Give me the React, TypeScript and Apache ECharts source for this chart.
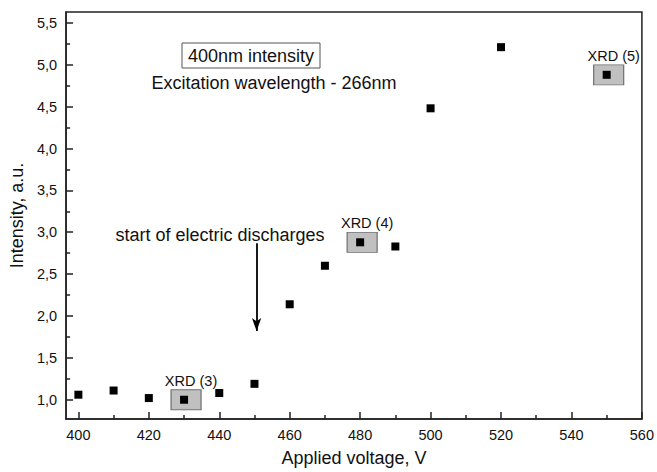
import React, { useEffect, useRef } from "react";
import * as echarts from "echarts";

const voltages = [400, 410, 420, 430, 440, 450, 460, 470, 480, 490, 500, 520, 550];
const intensity = [1.06, 1.11, 1.02, 1.0, 1.08, 1.19, 2.14, 2.6, 2.88, 2.83, 4.48, 5.21, 4.88];

const xrdVoltages = [430, 480, 550];
const xrdIntensity = [1.0, 2.88, 4.88];
const xrdLabels = ["XRD (3)", "XRD (4)", "XRD (5)"];

const xMajorTicks = [400, 420, 440, 460, 480, 500, 520, 540, 560];
const xMinorTicks = [410, 430, 450, 470, 490, 510, 530, 550];
const yMajorTicks = [1.0, 1.5, 2.0, 2.5, 3.0, 3.5, 4.0, 4.5, 5.0, 5.5];
const yMinorTicks = [1.25, 1.75, 2.25, 2.75, 3.25, 3.75, 4.25, 4.75, 5.25];

const arrowX = 450.6;
const arrowFrom = 2.87;
const arrowTo = 1.82;

const FONT = "'Liberation Sans', Arial, sans-serif";
const TEXT = "#111";
const AXIS = "#222";

export default function App() {
  const ref = useRef<HTMLDivElement>(null);
  useEffect(() => {
    document.body.style.margin = "0";
    if (!ref.current) return;
    const chart = echarts.init(ref.current, undefined, { renderer: "svg" });
    const xMin = 396.5, xMax = 560, yMin = 0.77, yMax = 5.63;
    const option: any = {
      animation: false,
      backgroundColor: "#fff",
      textStyle: { fontFamily: FONT },
      grid: {
        left: 64, right: 13, top: 12, bottom: 50,
        show: true, borderColor: AXIS, borderWidth: 1.5, backgroundColor: "transparent",
      },
      xAxis: [
        {
          type: "value", min: xMin, max: xMax, position: "bottom",
          name: "Applied voltage, V", nameLocation: "middle", nameGap: 30,
          nameTextStyle: { fontSize: 18, color: TEXT, fontFamily: FONT },
          axisLine: { show: true, onZero: false, lineStyle: { color: AXIS, width: 1.5 } },
          axisTick: { show: true, inside: true, length: 7, customValues: xMajorTicks, lineStyle: { color: AXIS, width: 1.5 } },
          axisLabel: { show: true, customValues: xMajorTicks, fontSize: 14.5, color: TEXT, margin: 8, fontFamily: FONT },
          splitLine: { show: false },
        },
        {
          type: "value", min: xMin, max: xMax, position: "bottom", offset: 0,
          axisLine: { show: false, onZero: false },
          axisTick: { show: true, inside: true, length: 4, customValues: xMinorTicks, lineStyle: { color: AXIS, width: 1.5 } },
          axisLabel: { show: false },
          splitLine: { show: false },
        },
      ],
      yAxis: [
        {
          type: "value", min: yMin, max: yMax, position: "left",
          name: "Intensity, a.u.", nameLocation: "middle", nameGap: 40,
          nameTextStyle: { fontSize: 18, color: TEXT, fontFamily: FONT },
          axisLine: { show: true, onZero: false, lineStyle: { color: AXIS, width: 1.5 } },
          axisTick: { show: true, inside: true, length: 7, customValues: yMajorTicks, lineStyle: { color: AXIS, width: 1.5 } },
          axisLabel: {
            show: true, customValues: yMajorTicks, fontSize: 14.5, color: TEXT, margin: 9, fontFamily: FONT,
            formatter: (v: number) => v.toFixed(1).replace(".", ","),
          },
          splitLine: { show: false },
        },
        {
          type: "value", min: yMin, max: yMax, position: "left", offset: 0,
          axisLine: { show: false, onZero: false },
          axisTick: { show: true, inside: true, length: 4, customValues: yMinorTicks, lineStyle: { color: AXIS, width: 1.5 } },
          axisLabel: { show: false },
          splitLine: { show: false },
        },
      ],
      series: [
        {
          type: "scatter",
          name: "XRD",
          symbol: "rect",
          symbolSize: [30, 20],
          symbolOffset: [2, 0],
          itemStyle: { color: "#c0c0c0", borderColor: "#707070", borderWidth: 1, opacity: 1 },
          data: xrdVoltages.map((v, i) => ({ value: [v, xrdIntensity[i]], name: xrdLabels[i] })),
          label: {
            show: true, position: "top", distance: 1, offset: [5, 0],
            formatter: (p: any) => p.name, fontSize: 14.5, color: TEXT, fontFamily: FONT,
          },
          z: 1,
        },
        {
          type: "scatter",
          name: "Intensity",
          symbol: "rect",
          symbolSize: 8,
          itemStyle: { color: "#000", opacity: 1 },
          data: voltages.map((v, i) => [v, intensity[i]]),
          z: 3,
          markLine: {
            silent: true,
            symbol: ["none", "arrow"],
            symbolSize: [7, 13],
            label: { show: false },
            lineStyle: { color: "#000", width: 1.8, type: "solid", opacity: 1 },
            data: [[{ coord: [arrowX, arrowFrom] }, { coord: [arrowX, arrowTo] }]],
          },
        },
      ],
      graphic: [
        {
          type: "rect", shape: { x: 182, y: 43, width: 138, height: 25 },
          style: { fill: "#fff", stroke: "#555", lineWidth: 1 },
        },
        {
          type: "text", x: 251, y: 56,
          style: { text: "400nm intensity", font: `18px ${FONT}`, fill: TEXT, align: "center", verticalAlign: "middle" },
        },
        {
          type: "text", x: 274, y: 83,
          style: { text: "Excitation wavelength - 266nm", font: `18px ${FONT}`, fill: TEXT, align: "center", verticalAlign: "middle" },
        },
        {
          type: "text", x: 220, y: 235,
          style: { text: "start of electric discharges", font: `18px ${FONT}`, fill: TEXT, align: "center", verticalAlign: "middle" },
        },
      ],
    };
    chart.setOption(option);
    return () => chart.dispose();
  }, []);
  return <div ref={ref} style={{ width: 657, height: 472 }} />;
}
